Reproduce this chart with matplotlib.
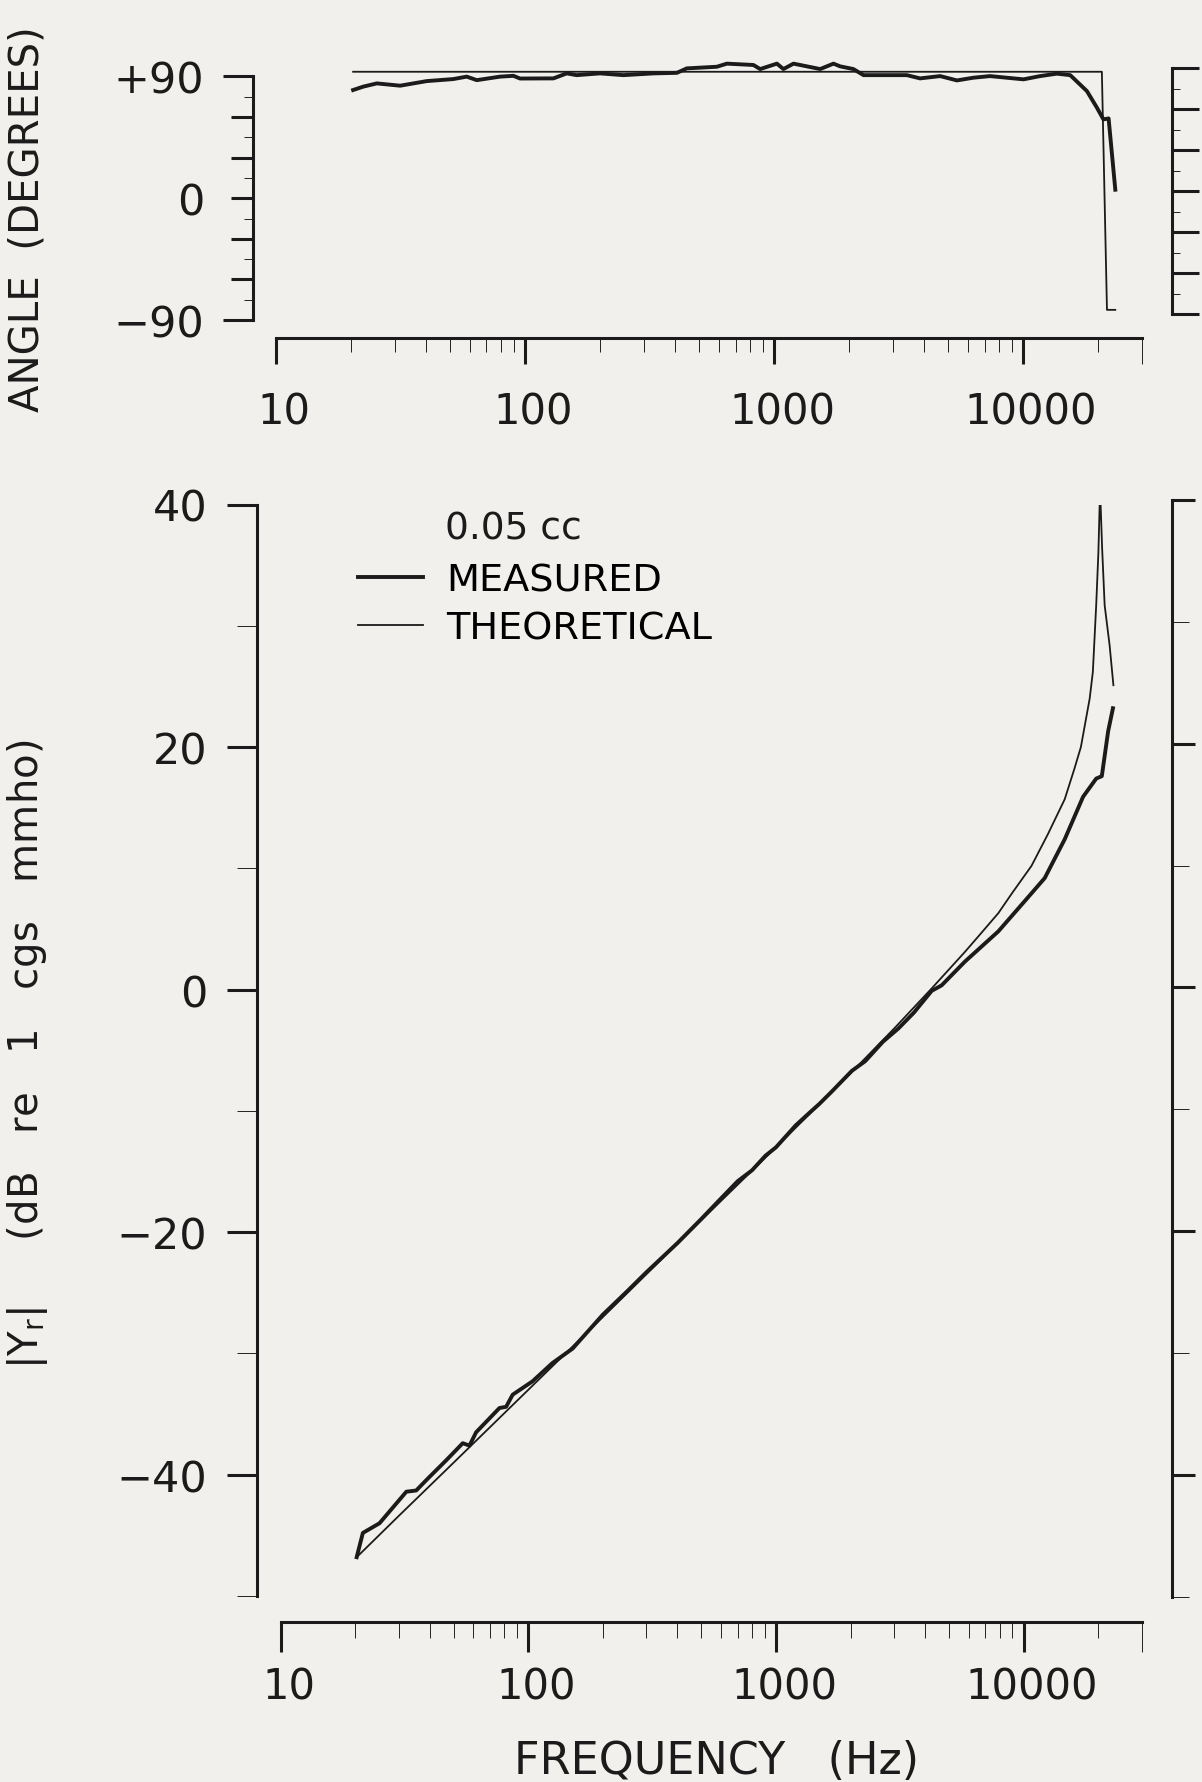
import matplotlib
matplotlib.use("Agg")
import matplotlib.pyplot as plt
from matplotlib.ticker import FixedLocator, FixedFormatter, NullFormatter
from matplotlib.transforms import ScaledTranslation

# ---- data ----
# phase (top panel)
phase_freq_meas = [20.4, 22.4, 25.4, 31.5, 40.3, 51.5, 58.3, 64.0, 79.4, 89.8,
                   95.5, 130, 147, 161, 200, 248, 328, 407, 446, 589,
                   646, 826, 879, 1026, 1090, 1196, 1531, 1731, 1841, 2081,
                   2285, 3412, 3855, 4643, 5420, 6310, 7360, 10030, 11700, 13650,
                   15450, 18030, 19770, 21000, 22030, 23440]
phase_meas = [80.0, 82.5, 84.9, 83.2, 86.6, 88.1, 89.9, 87.3, 89.9, 90.5,
              88.5, 88.6, 92.3, 91.0, 92.3, 91.0, 92.3, 92.7, 96.0, 97.2,
              99.5, 98.5, 95.5, 99.5, 95.5, 99.5, 95.5, 99.5, 97.5, 95.5,
              91.0, 91.0, 88.6, 90.3, 87.1, 89.1, 90.3, 87.9, 90.3, 92.1,
              91.0, 79.2, 67.0, 58.3, 59.0, 6.3]
phase_freq_th = [20.4, 20700, 21700, 23440]
phase_th = [93.5, 93.5, -82.5, -82.5]

# admittance magnitude (bottom panel)
mag_freq_meas = [20.3, 21.5, 25.1, 32.2, 35.3, 39.4, 46.7, 54.4, 57.9, 61.6,
                 76.5, 81.4, 86.5, 104, 125, 151, 200, 250, 300, 400,
                 500, 588, 700, 800, 906, 1000, 1200, 1357, 1500, 1680,
                 2023, 2291, 2700, 3120, 3600, 4250, 4660, 5780, 7890, 10090,
                 12150, 14630, 17350, 19600, 20650, 21900, 22900]
mag_meas = [-46.8, -44.8, -44.0, -41.4, -41.3, -40.3, -38.8, -37.4, -37.6, -36.5,
            -34.5, -34.4, -33.4, -32.3, -30.8, -29.6, -26.8, -24.9, -23.3, -20.9,
            -18.9, -17.4, -15.8, -14.9, -13.7, -13.0, -11.2, -10.2, -9.4, -8.4,
            -6.7, -5.9, -4.3, -3.2, -1.9, -0.1, 0.35, 2.3, 4.8, 7.3,
            9.2, 12.4, 15.9, 17.4, 17.6, 21.3, 23.2]
mag_freq_th = [20.3, 30, 50, 100, 200, 500, 1000, 2000, 3000, 4250,
               5780, 6500, 7890, 9000, 10740, 12500, 14630, 16000, 17000, 18450,
               19000, 19600, 20000, 20320, 20700, 21200, 22200, 23000]
mag_th = [-46.8, -43.4, -39.0, -33.0, -27.0, -19.0, -13.0, -6.9, -3.2, 0.1,
          3.1, 4.3, 6.3, 8.0, 10.2, 12.8, 15.7, 18.2, 20.0, 24.0,
          26.2, 31.7, 36.0, 41.3, 36.5, 31.7, 28.4, 25.1]

phase_labels = {90: "+90", 0: "0", -90: "\u221290"}
mag_labels = {40: "40", 20: "20", 0: "0", -20: "\u221220", -40: "\u221240"}
freq_decades = [10, 100, 1000, 10000]
freq_labels = ["10", "100", "1000", "10000"]
freq_minor = [m * d for d in (10, 100, 1000) for m in range(2, 10)] + [20000, 30000]

BG = "#f1f0ec"
INK = "#1b1b1b"
W, H = 1202, 1783
PT = 0.72  # points per pixel at dpi 100

plt.rcParams["font.family"] = ["DejaVu Sans"]
fig = plt.figure(figsize=(W / 100, H / 100), dpi=100, facecolor=BG)


def px_axes(left, right, top, bottom):
    ax = fig.add_axes([left / W, 1 - bottom / H, (right - left) / W, (bottom - top) / H])
    ax.patch.set_visible(False)
    for s in ax.spines.values():
        s.set_visible(False)
        s.set_linewidth(2.2)
        s.set_color(INK)
    ax.set_xscale("log")
    ax.set_xlim(10, 30000)
    ax.tick_params(colors=INK, width=2.2, direction="out")
    return ax


def freq_axis(ax, outward, long_px, short_px, pad_px):
    sp = ax.spines["bottom"]
    sp.set_visible(True)
    sp.set_position(("outward", outward * PT))
    sp.set_bounds(10, 30000)
    ax.xaxis.set_major_locator(FixedLocator(freq_decades))
    ax.xaxis.set_major_formatter(FixedFormatter(freq_labels))
    ax.xaxis.set_minor_locator(FixedLocator(freq_minor))
    ax.xaxis.set_minor_formatter(NullFormatter())
    ax.tick_params(axis="x", which="major", length=long_px * PT, pad=pad_px * PT,
                   labelsize=30)
    ax.tick_params(axis="x", which="minor", length=short_px * PT)
    # right end cap drawn long
    for t in ax.xaxis.get_minor_ticks()[-1:]:
        t.tick1line.set_markersize(long_px * PT)
    # lettering sits a little right of each decade tick
    shift = ScaledTranslation(8 / 100, 0, fig.dpi_scale_trans)
    for lbl in ax.get_xticklabels():
        lbl.set_transform(lbl.get_transform() + shift)


def value_axis(ax, side, outward, major, minor, long_px, short_px, labels=None,
               pad_px=0, ends=(), end_px=None):
    sp = ax.spines[side]
    sp.set_visible(True)
    sp.set_position(("outward", outward * PT))
    sp.set_bounds(min(major + minor), max(major + minor))
    if side == "right":
        ax.yaxis.tick_right()
    ax.yaxis.set_major_locator(FixedLocator(major))
    ax.yaxis.set_minor_locator(FixedLocator(minor))
    ax.yaxis.set_minor_formatter(NullFormatter())
    if labels:
        ax.yaxis.set_major_formatter(FixedFormatter([labels.get(v, "") for v in major]))
    else:
        ax.yaxis.set_major_formatter(NullFormatter())
    ax.tick_params(axis="y", which="major", length=long_px * PT, pad=pad_px * PT,
                   labelsize=31)
    ax.tick_params(axis="y", which="minor", length=short_px * PT)
    for v, t in zip(major, ax.yaxis.get_major_ticks()):
        if v in ends and end_px:
            line = t.tick2line if side == "right" else t.tick1line
            line.set_markersize(end_px * PT)


# ---- top panel: phase angle ----
# -90 sits at y=321 px, 1.3528 px per degree
ax1 = px_axes(276, 1142, 321 - 195 * 1.3528, 321)
ax1.set_ylim(-90, 105)
ax1.plot(phase_freq_th, phase_th, color=INK, lw=1.3)
ax1.plot(phase_freq_meas, phase_meas, color=INK, lw=2.8)
freq_axis(ax1, 18, 26, 14, 27)
value_axis(ax1, "left", 23.3, [-90, -60, -30, 0, 30, 60, 90], [-75, -45, -15, 15, 45, 75],
           21.7, 9.3, labels=phase_labels, pad_px=27, ends=(90, -90), end_px=30)

ax1r = px_axes(276, 1142, 69.3, 315)
ax1r.set_ylim(-90, 90)
ax1r.set_xticks([])
ax1r.xaxis.set_minor_locator(FixedLocator([]))
value_axis(ax1r, "right", 29.7, [-90, -60, -30, 0, 30, 60, 90], [-75, -45, -15, 15, 45, 75],
           26.7, 8.3)

# ---- bottom panel: |Yr| ----
ax2 = px_axes(280.5, 1142, 505.5, 1597)
ax2.set_ylim(-50, 40)
l_meas, = ax2.plot(mag_freq_meas, mag_meas, color=INK, lw=2.8)
l_th, = ax2.plot(mag_freq_th, mag_th, color=INK, lw=1.3)
freq_axis(ax2, 25.7, 30, 16, 14)
value_axis(ax2, "left", 23.2, [-40, -20, 0, 20, 40], [-50, -30, -10, 10, 30],
           30, 20, labels=mag_labels, pad_px=20)

ax2r = px_axes(280.5, 1142, 501, 1597.5)
ax2r.set_ylim(-50, 40)
ax2r.set_xticks([])
ax2r.xaxis.set_minor_locator(FixedLocator([]))
value_axis(ax2r, "right", 30, [-40, -20, 0, 20, 40], [-50, -30, -10, 10, 30], 23, 16.7)

ax2.legend([l_meas, l_th], ["MEASURED", "THEORETICAL"], loc="upper left",
           bbox_to_anchor=(358 / W, 1 - 563 / H), bbox_transform=fig.transFigure,
           frameon=False, fontsize=27.5, handlelength=1.7, handletextpad=0.6,
           borderpad=0, borderaxespad=0, labelspacing=0.33)
fig.text(445 / W, 1 - 530 / H, "0.05 cc", ha="left", va="center", fontsize=27, color=INK)

# ---- axis titles ----
fig.text(28 / W, 1 - 219 / H, "ANGLE  (DEGREES)", rotation=90, ha="center", va="center",
         fontsize=29, color=INK)
fig.text(28 / W, 1 - 1054 / H, r"|Y$_\mathregular{r}$|     (dB   re   1   cgs   mmho)",
         rotation=90, ha="center", va="center", fontsize=29, color=INK)
fig.text(716 / W, 1 - 1762 / H, "FREQUENCY   (Hz)", ha="center", va="center",
         fontsize=32, color=INK)

fig.savefig("out.png", dpi=100, facecolor=BG)
